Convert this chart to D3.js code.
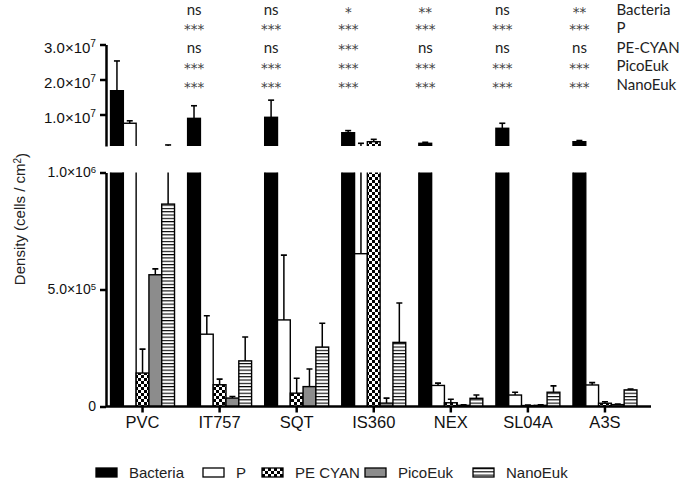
<!DOCTYPE html>
<html>
<head>
<meta charset="utf-8">
<script src="https://cdn.jsdelivr.net/npm/d3@7"></script>
<style>
  body { margin: 0; background: #fff; }
  svg { display: block; }
  .axis path, .axis line { stroke: #000; stroke-width: 2.5; }
</style>
</head>
<body>
<script>
const categories = ["PVC", "IT757", "SQT", "IS360", "NEX", "SL04A", "A3S"];
const series = ["Bacteria", "P", "PE CYAN", "PicoEuk", "NanoEuk"];

// mean densities (cells / cm2)
const bacteria = [16.8e6, 8.9e6, 9.2e6, 4.8e6, 1.77e6, 6.06e6, 2.23e6];
const pro = [7.5e6, 0.309e6, 0.37e6, 0.653e6, 0.09e6, 0.049e6, 0.092e6];
const peCyan = [0.143e6, 0.093e6, 0.057e6, 2.23e6, 0.016e6, 0.004e6, 0.014e6];
const picoEuk = [0.563e6, 0.036e6, 0.085e6, 0.0145e6, 0.005e6, 0.005e6, 0.008e6];
const nanoEuk = [0.865e6, 0.195e6, 0.254e6, 0.274e6, 0.035e6, 0.061e6, 0.071e6];

// upper error (SD)
const bacteriaSd = [8.5e6, 3.6e6, 4.9e6, 0.6e6, 0.29e6, 1.44e6, 0.34e6];
const proSd = [0.7e6, 0.079e6, 0.277e6, 1.12e6, 0.01e6, 0.012e6, 0.01e6];
const peCyanSd = [0.102e6, 0.024e6, 0.064e6, 0.67e6, 0.015e6, 0.002e6, 0.006e6];
const picoEukSd = [0.025e6, 0.007e6, 0.075e6, 0.0215e6, 0.002e6, 0.002e6, 0.002e6];
const nanoEukSd = [0.435e6, 0.102e6, 0.102e6, 0.168e6, 0.014e6, 0.027e6, 0.004e6];

// significance table (vs PVC)
const sigRows = ["Bacteria", "P", "PE-CYAN", "PicoEuk", "NanoEuk"];
const sigBacteria = ["ns", "ns", "*", "**", "ns", "**"];
const sigP = ["***", "***", "***", "***", "***", "***"];
const sigPeCyan = ["ns", "ns", "***", "ns", "ns", "ns"];
const sigPicoEuk = ["***", "***", "***", "***", "***", "***"];
const sigNanoEuk = ["***", "***", "***", "***", "***", "***"];

const lowTicks = [0, 5e5, 1e6];
const highTicks = [1e7, 2e7, 3e7];

const means = [bacteria, pro, peCyan, picoEuk, nanoEuk];
const sds = [bacteriaSd, proSd, peCyanSd, picoEukSd, nanoEukSd];
const sigs = [sigBacteria, sigP, sigPeCyan, sigPicoEuk, sigNanoEuk];

const data = [];
series.forEach((s, si) => {
  categories.forEach((c, ci) => {
    data.push({ cat: c, series: s, si, v: means[si][ci], top: means[si][ci] + sds[si][ci] });
  });
});

const W = 680, H = 482;
const SANS = "'Liberation Sans', Arial, sans-serif";
const svg = d3.select("body").append("svg").attr("width", W).attr("height", H);
const defs = svg.append("defs");

// checker pattern for PE CYAN
const chk = defs.append("pattern").attr("id", "checker")
  .attr("patternUnits", "userSpaceOnUse").attr("width", 6).attr("height", 6);
chk.append("rect").attr("width", 6).attr("height", 6).attr("fill", "#fff");
chk.append("rect").attr("width", 3).attr("height", 3).attr("fill", "#000");
chk.append("rect").attr("x", 3).attr("y", 3).attr("width", 3).attr("height", 3).attr("fill", "#000");

// horizontal stripes for NanoEuk
const str = defs.append("pattern").attr("id", "stripes")
  .attr("patternUnits", "userSpaceOnUse").attr("width", 6).attr("height", 3.3);
str.append("rect").attr("width", 6).attr("height", 3.3).attr("fill", "#fff");
str.append("rect").attr("width", 6).attr("height", 1.1).attr("fill", "#000");

const fills = { "Bacteria": "#000", "P": "#fff", "PE CYAN": "url(#checker)", "PicoEuk": "#8c8c8c", "NanoEuk": "url(#stripes)" };

const x = d3.scaleBand().domain(categories).range([104, 643.5]).paddingInner(0.17).paddingOuter(0.085);
const xs = d3.scaleBand().domain(series).range([0, x.bandwidth()]);

const yLow = d3.scaleLinear().domain([0, 1e6]).range([406.5, 172.5]);
const yHigh = d3.scaleLinear().domain([1e6, 3e7]).range([146, 44.5]);

defs.append("clipPath").attr("id", "clipLow").append("rect")
  .attr("x", 0).attr("y", yLow.range()[1]).attr("width", W).attr("height", yLow.range()[0] - yLow.range()[1]);
defs.append("clipPath").attr("id", "clipHigh").append("rect")
  .attr("x", 0).attr("y", 30).attr("width", W).attr("height", yHigh.range()[0] - 30);

function drawPanel(y, clipId) {
  const [d0, d1] = y.domain();
  const base = y.range()[0];
  const g = svg.append("g").attr("clip-path", `url(#${clipId})`);
  const bx = (d) => x(d.cat) + xs(d.series);

  g.selectAll("rect.bar")
    .data(data.filter((d) => d.v > d0))
    .join("rect")
    .attr("class", "bar")
    .attr("x", bx)
    .attr("width", xs.bandwidth())
    .attr("y", (d) => (d.v > d1 ? y(d1) - 5 : y(d.v)))
    .attr("height", (d) => base + 5 - (d.v > d1 ? y(d1) - 5 : y(d.v)))
    .attr("fill", (d) => fills[d.series])
    .attr("stroke", "#000")
    .attr("stroke-width", 1.4);

  // error bars (upper side only)
  const err = data.filter((d) => d.top > d0 && d.v < d1);
  const cx = (d) => bx(d) + xs.bandwidth() / 2;
  g.selectAll("line.err")
    .data(err)
    .join("line")
    .attr("class", "err")
    .attr("x1", cx).attr("x2", cx)
    .attr("y1", (d) => y(Math.max(d.v, d0)) + (d.v > d0 ? 0 : 5))
    .attr("y2", (d) => (d.top > d1 ? y(d1) - 5 : y(d.top)))
    .attr("stroke", "#000").attr("stroke-width", 1.5);
  g.selectAll("line.cap")
    .data(err.filter((d) => d.top <= d1))
    .join("line")
    .attr("class", "cap")
    .attr("x1", (d) => cx(d) - 3).attr("x2", (d) => cx(d) + 3)
    .attr("y1", (d) => y(d.top)).attr("y2", (d) => y(d.top))
    .attr("stroke", "#000").attr("stroke-width", 1.6);
}

drawPanel(yLow, "clipLow");
drawPanel(yHigh, "clipHigh");

function sciLabel(sel, size) {
  sel.selectAll(".tick text").each(function (d) {
    const t = d3.select(this).text(null)
      .style("font-family", SANS).style("font-size", `${size}px`).attr("fill", "#111");
    if (d === 0) { t.text("0"); return; }
    const e = Math.floor(Math.log10(d));
    const m = d / Math.pow(10, e);
    t.append("tspan").text(`${m.toFixed(1)}\u00d710`);
    t.append("tspan").attr("dy", "-0.5em").style("font-size", `${size * 0.68}px`).text(e);
  });
}

// y axes
const axLow = svg.append("g").attr("class", "axis").attr("transform", "translate(106,0)")
  .call(d3.axisLeft(yLow).tickValues(lowTicks).tickSize(6).tickSizeOuter(0).tickPadding(4).tickFormat(() => ""));
sciLabel(axLow, 14);
const axHigh = svg.append("g").attr("class", "axis").attr("transform", "translate(106,0)")
  .call(d3.axisLeft(yHigh).tickValues(highTicks).tickSize(6).tickSizeOuter(0).tickPadding(4).tickFormat(() => ""));
sciLabel(axHigh, 15);
axHigh.selectAll(".tick text").attr("dy", "0.5em");

// x axis
const axX = svg.append("g").attr("class", "axis").attr("transform", `translate(0,${yLow(0)})`)
  .call(d3.axisBottom(x).tickSize(6).tickSizeOuter(0).tickPadding(4));
axX.select(".domain").remove();
axX.append("line").attr("x1", 106).attr("x2", 651).attr("stroke", "#000").attr("stroke-width", 2.5);
axX.selectAll(".tick text").style("font-family", SANS).style("font-size", "16.5px").attr("fill", "#111");

// y label
svg.append("text")
  .attr("transform", "translate(25,219) rotate(-90)")
  .attr("text-anchor", "middle")
  .style("font-family", SANS)
  .style("font-size", "15px")
  .attr("fill", "#222")
  .call((t) => {
    t.append("tspan").text("Density (cells / cm");
    t.append("tspan").attr("dy", "-0.45em").style("font-size", "10px").text("2");
    t.append("tspan").attr("dy", "0.45em").text(")");
  });

// significance table
const sigX = (c) => x(c) + x.bandwidth() / 2 - 25.5;
const rowBase = [16, 33.5, 53.5, 72, 91];
const sigG = svg.append("g").style("font-family", "Lato, sans-serif").style("font-size", "15px");
sigs.forEach((row, ri) => {
  sigG.selectAll(null)
    .data(row)
    .join("text")
    .attr("x", (d, i) => sigX(categories[i + 1]))
    .attr("y", (d) => (d === "ns" ? rowBase[ri] - 1 : rowBase[ri] + 0.5))
    .attr("text-anchor", "middle")
    .style("font-family", (d) => (d === "ns" ? "Lato, sans-serif" : "'DejaVu Sans', sans-serif"))
    .style("font-size", (d) => (d === "ns" ? "15px" : "13.5px"))
    .attr("fill", (d) => (d === "ns" ? "#222" : "#444"))
    .text((d) => d);
});
sigG.selectAll("text.rowlab")
  .data(sigRows)
  .join("text")
  .attr("class", "rowlab")
  .attr("x", 616.5)
  .attr("y", (d, i) => rowBase[i] - 1)
  .attr("fill", "#222")
  .text((d) => d);

// legend
const legendX = [96, 203, 262, 365, 473];
const leg = svg.append("g").selectAll("g")
  .data(series)
  .join("g")
  .attr("transform", (d, i) => `translate(${legendX[i]},468)`);
leg.append("rect")
  .attr("width", 21).attr("height", 9)
  .attr("fill", (d) => fills[d])
  .attr("stroke", "#000").attr("stroke-width", 1.3);
leg.append("text")
  .attr("x", 33).attr("y", 9.5)
  .style("font-family", SANS)
  .style("font-size", "15px")
  .attr("fill", "#222")
  .text((d) => d);
</script>
</body>
</html>
